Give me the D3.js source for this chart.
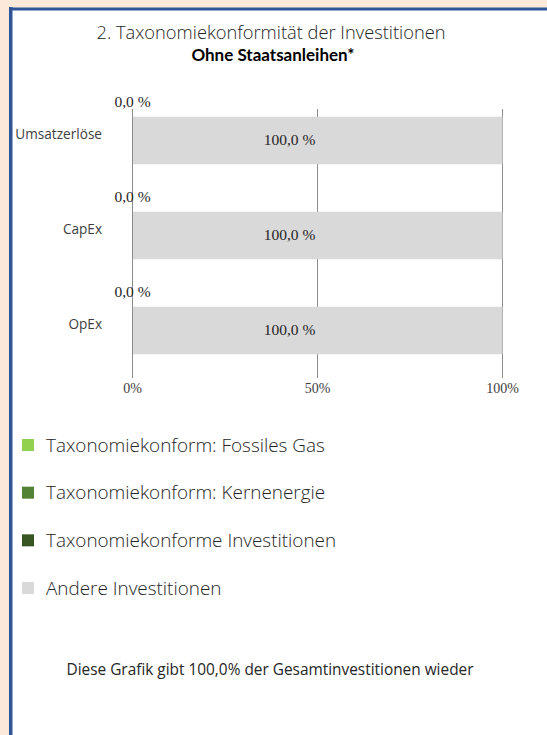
<!DOCTYPE html>
<html>
<head>
<meta charset="utf-8">
<script src="https://cdn.jsdelivr.net/npm/d3@7"></script>
<style>
  body { margin: 0; background: #fde9d9; }
  svg { display: block; }
</style>
</head>
<body>
<script>
// data
var categories = ['Umsatzerlöse', 'CapEx', 'OpEx'];
var fossilGas = [0, 0, 0];
var nuclear = [0, 0, 0];
var aligned = [0, 0, 0];
var other = [100, 100, 100];
var xTicks = [0, 50, 100];
var legendLabels = ['Taxonomiekonform: Fossiles Gas', 'Taxonomiekonform: Kernenergie', 'Taxonomiekonforme Investitionen', 'Andere Investitionen'];
var legendColors = ['#92d050', '#548235', '#375623', '#d9d9d9'];

var W = 547, H = 735;
var sans = '"Open Sans", Lato, sans-serif';
var serif = '"Liberation Serif", "Times New Roman", Times, "DejaVu Serif", serif';

var svg = d3.select('body').append('svg')
  .attr('width', W)
  .attr('height', H);

// frame: peach border, blue lines, white panel
svg.append('rect').attr('x', 12).attr('y', 10).attr('width', W - 12).attr('height', H - 10).attr('fill', '#fff');
svg.append('rect').attr('x', 9).attr('y', 7).attr('width', 3.5).attr('height', H - 7).attr('fill', '#2f5597');
svg.append('rect').attr('x', 9).attr('y', 7.5).attr('width', W - 9).attr('height', 3).attr('fill', '#2f5597');

svg.append('text')
  .attr('x', 271).attr('y', 39)
  .attr('text-anchor', 'middle')
  .style('font-family', sans).style('font-size', '18.3px').style('font-weight', 300)
  .attr('fill', '#262626')
  .text('2. Taxonomiekonformität der Investitionen');

svg.append('text')
  .attr('x', 273).attr('y', 61)
  .attr('text-anchor', 'middle')
  .style('font-family', 'Lato, sans-serif').style('font-size', '17px').style('font-weight', 700)
  .attr('fill', '#000')
  .text('Ohne Staatsanleihen*');

// chart
var x = d3.scaleLinear().domain([0, 100]).range([132.5, 502.5]);
var y = d3.scaleBand().domain(categories).range([93, 378]).paddingInner(0.5).paddingOuter(0.25);

var rows = categories.map(function(c, i) {
  return { cat: c, gas: fossilGas[i], nuc: nuclear[i], aligned: aligned[i], other: other[i] };
});
var keys = ['gas', 'nuc', 'aligned', 'other'];
var stack = d3.stack().keys(keys)(rows);

var grid = svg.append('g');
grid.selectAll('line')
  .data(xTicks)
  .enter().append('line')
    .attr('x1', function(d) { return x(d) }).attr('x2', function(d) { return x(d) })
    .attr('y1', 109).attr('y2', 378)
    .attr('stroke', '#8c8c8c').attr('stroke-width', 1);

var layers = svg.append('g').selectAll('g')
  .data(stack)
  .enter().append('g')
    .attr('fill', function(d, i) { return legendColors[i] });

layers.selectAll('rect')
  .data(function(d) { return d })
  .enter().append('rect')
    .attr('x', function(d) { return x(d[0]) })
    .attr('width', function(d) { return x(d[1]) - x(d[0]) })
    .attr('y', function(d) { return y(d.data.cat) })
    .attr('height', y.bandwidth());

// zero axis line on top of bars
svg.append('line')
  .attr('x1', x(0)).attr('x2', x(0)).attr('y1', 109).attr('y2', 378)
  .attr('stroke', '#8c8c8c');

// value labels: aligned share above bar, other inside
svg.append('g').selectAll('text')
  .data(rows)
  .enter().append('text')
    .attr('x', function(d) { return x(d.gas + d.nuc) })
    .attr('y', function(d) { return y(d.cat) - 10 })
    .attr('text-anchor', 'middle')
    .style('font-family', serif).style('font-size', '15.5px')
    .attr('fill', '#262626')
    .text(function(d) { return d3.format('.1f')(d.aligned).replace('.', ',') + ' %' });

svg.append('g').selectAll('text')
  .data(rows)
  .enter().append('text')
    .attr('x', function(d) { return x(d.gas + d.nuc + d.aligned + d.other / 2) })
    .attr('dx', -28)
    .attr('y', function(d) { return y(d.cat) + y.bandwidth() / 2 })
    .attr('dy', '0.3em')
    .attr('text-anchor', 'middle')
    .style('font-family', serif).style('font-size', '15.5px')
    .attr('fill', '#262626')
    .text(function(d) { return d3.format('.1f')(d.other).replace('.', ',') + ' %' });

// category labels
svg.append('g').selectAll('text')
  .data(categories)
  .enter().append('text')
    .attr('x', 102)
    .attr('y', function(d) { return y(d) + y.bandwidth() / 2 - 6 })
    .attr('dy', '0.35em')
    .attr('text-anchor', 'end')
    .style('font-family', sans).style('font-size', '13.6px')
    .attr('fill', '#404040')
    .text(function(d) { return d });

// x tick labels
svg.append('g').selectAll('text')
  .data(xTicks)
  .enter().append('text')
    .attr('x', function(d) { return x(d) })
    .attr('y', 393)
    .attr('text-anchor', 'middle')
    .style('font-family', serif).style('font-size', '14px')
    .attr('fill', '#404040')
    .text(function(d) { return d + '%' });

// legend
var ly = d3.scalePoint().domain(legendLabels).range([445, 588]);
var legend = svg.append('g').selectAll('g')
  .data(legendLabels)
  .enter().append('g')
    .attr('transform', function(d) { return 'translate(0,' + ly(d) + ')' });

legend.append('rect')
  .attr('x', 22).attr('y', -6).attr('width', 12).attr('height', 12)
  .attr('fill', function(d, i) { return legendColors[i] });

legend.append('text')
  .attr('x', 46).attr('dy', '0.35em')
  .style('font-family', sans).style('font-size', '18.9px').style('font-weight', 300)
  .attr('fill', '#262626')
  .text(function(d) { return d });

svg.append('text')
  .attr('x', 270).attr('y', 670).attr('dy', '0.35em')
  .attr('text-anchor', 'middle')
  .style('font-family', sans).style('font-size', '15.4px')
  .attr('fill', '#262626')
  .text('Diese Grafik gibt 100,0% der Gesamtinvestitionen wieder');
</script>
</body>
</html>
